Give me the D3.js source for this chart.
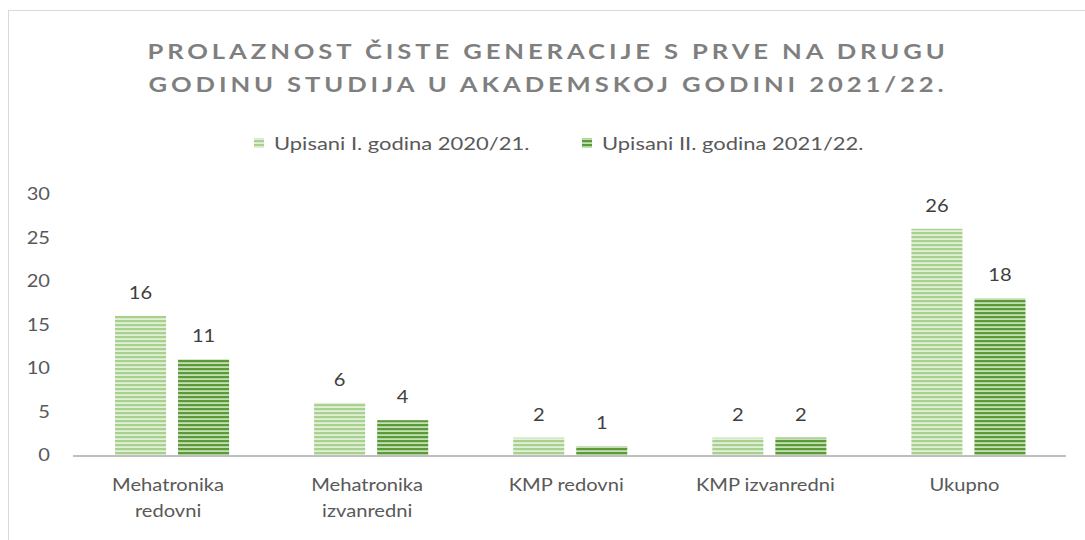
<!DOCTYPE html>
<html>
<head>
<meta charset="utf-8">
<script src="https://cdn.jsdelivr.net/npm/d3@7"></script>
<style>
  body { margin: 0; background: #fff; }
  text { font-family: Lato, "Open Sans", sans-serif; }
</style>
</head>
<body>
<div id="plot"></div>
<script>
const categories = [["Mehatronika", "redovni"], ["Mehatronika", "izvanredni"], ["KMP redovni"], ["KMP izvanredni"], ["Ukupno"]];
const seriesNames = ["Upisani I. godina 2020/21.", "Upisani II. godina 2021/22."];
const first = [16, 6, 2, 2, 26];
const second = [11, 4, 1, 2, 18];
const yTicks = [0, 5, 10, 15, 20, 25, 30];

const width = 1085, height = 540;
const sx = 1.22; // text looks stretched sideways in the reference
const svg = d3.select("#plot").append("svg")
  .attr("width", width).attr("height", height);

// stripe patterns
const defs = svg.append("defs");
const stripes = [
  {id: "p0", a: "#a9d18e", b: "#e2f0d9"},
  {id: "p1", a: "#5a9a38", b: "#c5e0b4"}
];
stripes.forEach(s => {
  const p = defs.append("pattern").attr("id", s.id)
    .attr("patternUnits", "userSpaceOnUse").attr("width", 8).attr("height", 4);
  p.append("rect").attr("width", 8).attr("height", 4).attr("fill", s.b);
  p.append("rect").attr("width", 8).attr("height", 2.2).attr("fill", s.a);
});

svg.append("rect").attr("x", 8.5).attr("y", 10.5)
  .attr("width", 1100).attr("height", 600)
  .attr("fill", "none").attr("stroke", "#d9d9d9");

// helper: text placed at (x,y) and stretched
function label(x, y, t, anchor) {
  return svg.append("text").attr("transform", `translate(${x},${y}) scale(${sx},1)`)
    .attr("text-anchor", anchor || "middle").text(t);
}

// title
label(548, 58.5, "PROLAZNOST ČISTE GENERACIJE S PRVE NA DRUGU")
  .attr("fill", "#7f7f7f").attr("font-weight", "bold").attr("font-size", 21).attr("letter-spacing", 3.2);
label(548, 92, "GODINU STUDIJA U AKADEMSKOJ GODINI 2021/22.")
  .attr("fill", "#7f7f7f").attr("font-weight", "bold").attr("font-size", 21).attr("letter-spacing", 3.2);

const x0 = d3.scaleBand().domain(d3.range(categories.length)).range([72.5, 1068]);
const x1 = d3.scaleBand().domain([0, 1]).range([42.5, x0.bandwidth() - 42.5]).paddingInner(0.19);
const y = d3.scaleLinear().domain([0, 30]).range([455, 194]);

// legend
const legendX = [254, 582];
seriesNames.forEach((n, i) => {
  svg.append("rect").attr("x", legendX[i]).attr("y", 138).attr("width", 10).attr("height", 10)
    .attr("fill", `url(#p${i})`);
  label(legendX[i] + 20, 149.5, n, "start")
    .attr("font-size", 18).attr("fill", "#595959");
});

// y axis
const yAxis = d3.axisLeft(y).tickValues(yTicks).tickSize(0).tickPadding(0);
svg.append("g").attr("transform", "translate(50,0)").call(yAxis)
  .call(g => g.select(".domain").remove())
  .call(g => g.selectAll("text").attr("font-size", 16.5).attr("fill", "#595959")
    .attr("font-family", "Lato, 'Open Sans', sans-serif").attr("dy", "0.35em")
    .attr("transform", `scale(${sx},1)`));

const data = categories.map((c, i) => [first[i], second[i]]);
const groups = svg.append("g").selectAll("g").data(data).join("g")
  .attr("transform", (d, i) => `translate(${x0(i)},0)`);
groups.selectAll("rect").data(d => d).join("rect")
  .attr("x", (d, j) => x1(j)).attr("width", x1.bandwidth())
  .attr("y", d => y(d)).attr("height", d => y(0) - y(d))
  .attr("fill", (d, j) => `url(#p${j})`);
groups.selectAll("text").data(d => d).join("text")
  .attr("transform", (d, j) => `translate(${x1(j) + x1.bandwidth() / 2},${y(d) - 17}) scale(${sx},1)`)
  .attr("text-anchor", "middle").attr("font-size", 16.5).attr("fill", "#404040")
  .text(d => d);

// baseline
svg.append("line").attr("x1", 73).attr("x2", 1066).attr("y1", 456).attr("y2", 456)
  .attr("stroke", "#bfbfbf").attr("stroke-width", 2);

// category labels
const xl = svg.append("g").selectAll("text").data(categories).join("text")
  .attr("text-anchor", "middle").attr("font-size", 16.5).attr("fill", "#595959")
  .attr("transform", (d, i) => `translate(${x0(i) + x0.bandwidth() / 2 - 4},0) scale(${sx},1)`);
xl.selectAll("tspan").data(d => d).join("tspan")
  .attr("x", 0).attr("y", (d, k) => 491 + k * 26).text(d => d);
</script>
</body>
</html>
